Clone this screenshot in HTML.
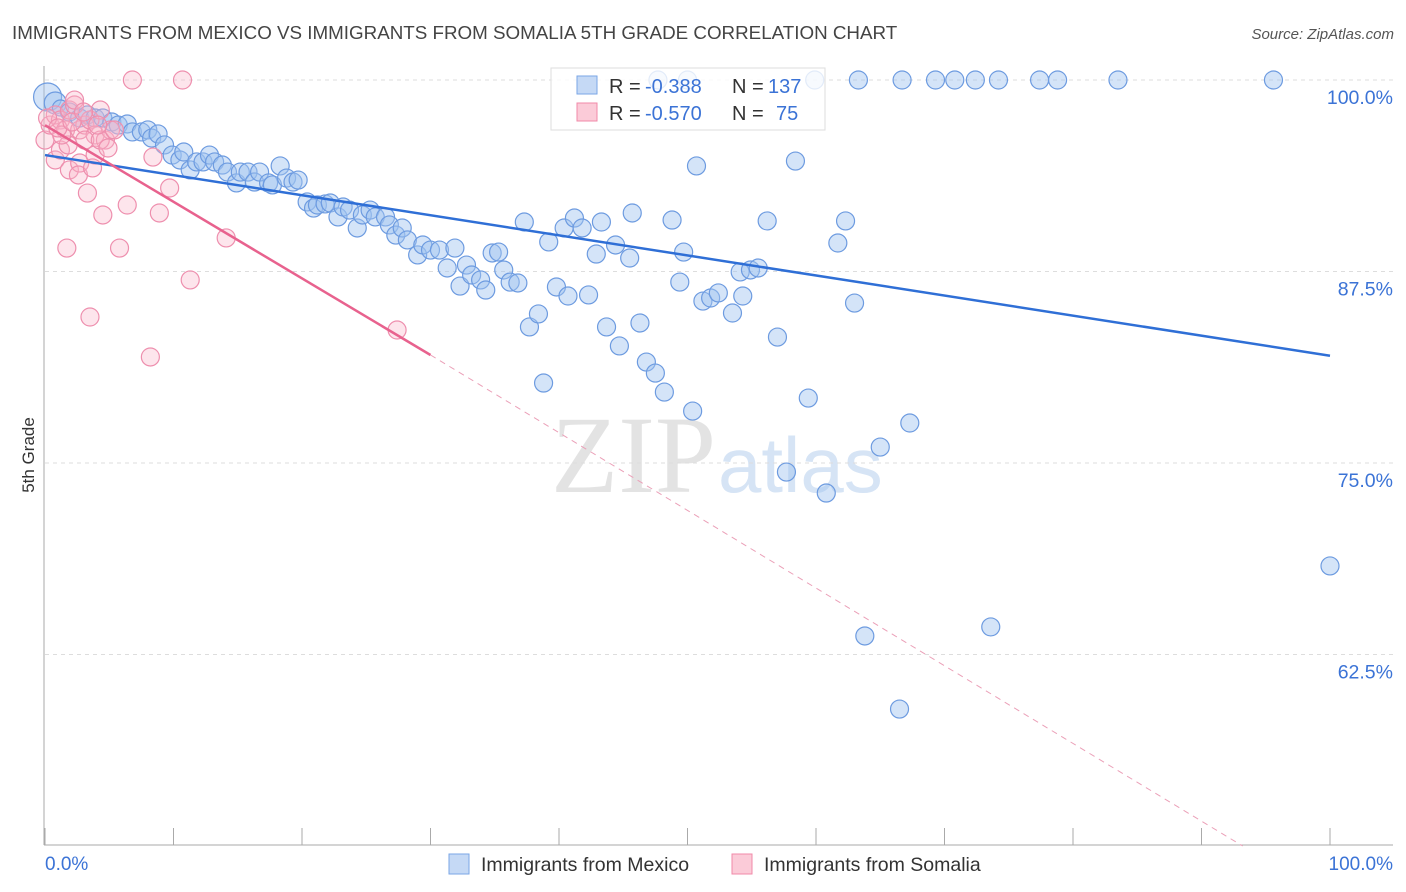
<!DOCTYPE html>
<html><head><meta charset="utf-8"><style>
body{margin:0;background:#fff;font-family:"Liberation Sans",sans-serif}
svg{display:block}
</style></head><body>
<svg id="c" width="1406" height="892">
<text x="12" y="39" font-size="18.8" fill="#444">IMMIGRANTS FROM MEXICO VS IMMIGRANTS FROM SOMALIA 5TH GRADE CORRELATION CHART</text>
<text x="1394" y="39" font-size="15" fill="#555" font-style="italic" text-anchor="end">Source: ZipAtlas.com</text>
<text x="716" y="492" font-size="110" fill="#e3e3e3" text-anchor="end" font-family="Liberation Serif">ZIP</text>
<text x="718" y="492" font-size="78" fill="#d6e4f5">atlas</text>
<text transform="translate(34,455) rotate(-90)" font-size="17" fill="#333" text-anchor="middle">5th Grade</text>
<g id="grid"></g><g id="marks"></g>
<g>
<rect x="551" y="68" width="274" height="62" fill="#fff" fill-opacity="0.8" stroke="#ddd"/>
<rect x="577" y="76" width="20" height="18" fill="#c5d9f5" stroke="#7aa6e6"/>
<rect x="577" y="103" width="20" height="18" fill="#fbcbd8" stroke="#f08aa8"/>
<text x="609" y="93" font-size="20" fill="#333">R =</text>
<text x="645" y="93" font-size="20" fill="#3b73d6">-0.388</text>
<text x="732" y="93" font-size="20" fill="#333">N =</text>
<text x="768" y="93" font-size="20" fill="#3b73d6">137</text>
<text x="609" y="120" font-size="20" fill="#333">R =</text>
<text x="645" y="120" font-size="20" fill="#3b73d6">-0.570</text>
<text x="732" y="120" font-size="20" fill="#333">N =</text>
<text x="776" y="120" font-size="20" fill="#3b73d6">75</text>
</g>
<g>
<rect x="449" y="854" width="20" height="20" fill="#c5d9f5" stroke="#7aa6e6"/>
<text x="481" y="871" font-size="19.5" fill="#333">Immigrants from Mexico</text>
<rect x="732" y="854" width="20" height="20" fill="#fbcbd8" stroke="#f08aa8"/>
<text x="764" y="871" font-size="19.5" fill="#333">Immigrants from Somalia</text>
</g>
</svg>
<script>
const yTicks=[100,87.5,75,62.5];
const yTickLabels=["100.0%","87.5%","75.0%","62.5%"];
const xEndLabels=["0.0%","100.0%"];
const mexPx=[[47,97],[55,103],[60,108],[70,112],[80,118],[88,115],[95,118],[103,118],[112,122],[118,125],[127,124],[133,132],[142,132],[148,130],[152,138],[158,134],[165,145],[172,155],[180,160],[184,152],[190,170],[196,162],[203,162],[210,155],[215,162],[222,165],[228,172],[236,183],[240,172],[248,172],[255,182],[260,172],[268,183],[273,185],[280,166],[287,178],[293,182],[298,180],[307,202],[313,208],[318,205],[325,204],[330,203],[338,217],[343,207],[350,210],[357,228],[362,215],[370,210],[375,217],[385,217],[390,225],[396,235],[402,228],[408,240],[418,255],[423,245],[430,250],[440,250],[447,268],[455,248],[460,286],[467,265],[472,275],[480,280],[486,290],[492,253],[498,252],[504,270],[510,282],[518,283],[524,222],[530,327],[538,314],[544,383],[549,242],[556,287],[564,228],[568,296],[575,218],[582,228],[588,295],[596,254],[602,222],[606,327],[615,245],[620,346],[630,258],[632,213],[640,323],[647,362],[655,373],[665,392],[672,220],[680,282],[684,252],[692,411],[697,166],[703,301],[710,298],[718,293],[732,313],[740,272],[743,296],[750,270],[758,268],[767,221],[777,337],[786,472],[796,161],[808,398],[826,493],[838,243],[846,221],[854,303],[865,636],[880,447],[900,709],[910,423],[991,627],[1330,566],[658,80],[688,80],[815,80],[858,80],[902,80],[936,80],[955,80],[975,80],[999,80],[1040,80],[1058,80],[1118,80],[1273,80]];
const somPx=[[45,140],[50,125],[55,115],[60,120],[65,130],[70,110],[75,105],[80,130],[85,125],[90,120],[95,135],[100,110],[105,140],[110,130],[55,160],[60,150],[67,248],[70,170],[75,100],[80,163],[85,140],[88,193],[90,317],[95,155],[100,140],[103,215],[108,148],[115,130],[120,248],[127,205],[133,80],[150,357],[153,157],[160,213],[170,188],[182,80],[190,280],[226,238],[397,330],[68,145],[78,175],[92,168],[62,135],[48,118],[58,128],[72,122],[83,112],[98,125]];
// data values (x %, y %)
const mexX=mexPx.map(p=>+((p[0]-45)/12.85).toFixed(1)), mexY=mexPx.map(p=>+(100-(p[1]-80)/15.32).toFixed(2));
const somX=somPx.map(p=>+((p[0]-45)/12.85).toFixed(1)), somY=somPx.map(p=>+(100-(p[1]-80)/15.32).toFixed(2));
const mexTrend=[[0,95.1],[100,82.0]];
const somTrend=[[0,97.05],[30,82.05],[93.2,50]];
const X=v=>45+v*12.85, Y=v=>80+(100-v)*15.32;
const NS='http://www.w3.org/2000/svg';
function mk(tag,attrs,parent){const e=document.createElementNS(NS,tag);for(const k in attrs)e.setAttribute(k,attrs[k]);parent.appendChild(e);return e;}
const grid=document.getElementById('grid'), marks=document.getElementById('marks');
yTicks.forEach((t,i)=>{
  const l=mk('line',{x1:45,x2:1393,y1:Y(t),y2:Y(t),stroke:'#ddd','stroke-dasharray':'4,4'},grid);
  
  
  const tx=mk('text',{x:1393,y:Y(t)+24,'font-size':19.5,fill:'#3b73d6','text-anchor':'end'},grid);
  tx.textContent=yTickLabels[i];
  
  
});
const ax=mk('line',{x1:44,x2:44,y1:66,y2:845,stroke:'#aaa'},grid);


const bx=mk('line',{x1:44,x2:1393,y1:845,y2:845,stroke:'#aaa'},grid);


for(let i=0;i<=10;i++){const t=mk('line',{x1:X(i*10),x2:X(i*10),y1:828,y2:845,stroke:'#aaa'},grid);
  
  }
[[0,'start',45],[100,'end',1393]].forEach((a,i)=>{const t=mk('text',{x:a[2],y:870,'font-size':19,fill:'#3b73d6','text-anchor':a[1]},grid);t.textContent=xEndLabels[i];
  
  });
mexX.forEach((v,i)=>{const r=i<3?14-i*3:9;const c=mk('circle',{cx:X(v),cy:Y(mexY[i]),r:r,fill:'rgba(160,195,240,0.45)',stroke:'#6d9be0','stroke-width':1.2},marks);
  
  });
somX.forEach((v,i)=>{const c=mk('circle',{cx:X(v),cy:Y(somY[i]),r:9,fill:'rgba(248,180,200,0.35)',stroke:'#ee8fae','stroke-width':1.2},marks);
  
  });
const tl=mk('line',{x1:X(mexTrend[0][0]),y1:Y(mexTrend[0][1]),x2:X(mexTrend[1][0]),y2:Y(mexTrend[1][1]),stroke:'#2f6fd6','stroke-width':2.5},marks);


const sl=mk('line',{x1:X(somTrend[0][0]),y1:Y(somTrend[0][1]),x2:X(somTrend[1][0]),y2:Y(somTrend[1][1]),stroke:'#e8628e','stroke-width':2.5},marks);


const sd=mk('line',{x1:X(somTrend[1][0]),y1:Y(somTrend[1][1]),x2:X(somTrend[2][0]),y2:Y(somTrend[2][1]),stroke:'#eba0b8','stroke-width':1,'stroke-dasharray':'6,5'},marks);


</script>
</body></html>
